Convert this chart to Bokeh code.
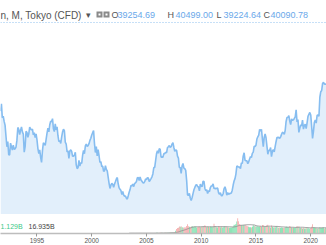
import pandas as pd
import numpy as np
from bokeh.plotting import figure
from bokeh.models import Range1d, Span, Label, FixedTicker
from bokeh.layouts import column
from bokeh.embed import file_html
from bokeh.resources import INLINE

# ---------------- data ----------------
price_start = "1991-09"
closes_1991 = [23916, 25222, 22687, 22984]
closes_1992 = [22023, 21339, 19346, 17391, 18348, 15952, 15910, 18061, 17399, 16767, 17684, 16925]
closes_1993 = [17024, 17308, 18591, 20919, 20552, 19590, 20380, 21027, 20106, 19704, 16408, 17417]
closes_1994 = [20229, 19997, 19111, 19725, 20974, 20644, 20449, 20629, 19564, 19990, 19076, 19723]
closes_1995 = [18650, 17054, 16140, 16807, 15437, 14517, 16678, 18117, 17913, 17655, 18744, 19868]
closes_1996 = [20813, 20125, 21407, 22041, 21956, 22531, 20693, 20167, 21556, 20466, 21020, 19361]
closes_1997 = [18330, 18557, 18003, 19151, 20069, 20605, 20331, 18229, 17888, 16459, 16637, 15259]
closes_1998 = [16628, 16831, 16527, 15641, 15671, 15830, 16379, 14108, 13406, 13565, 14883, 13842]
closes_1999 = [14499, 14367, 15837, 16701, 16112, 17530, 17862, 17437, 17605, 17943, 18558, 18934]
closes_2000 = [19540, 19960, 20337, 17974, 16332, 17411, 15728, 16861, 15747, 14540, 14649, 13786]
closes_2001 = [13844, 12884, 12999, 13934, 13262, 12969, 11861, 10713, 9775, 10366, 10697, 10543]
closes_2002 = [9998, 10588, 11025, 11493, 11764, 10622, 9877, 9619, 9383, 8640, 9216, 8579]
closes_2003 = [8340, 8363, 7973, 7831, 8425, 9083, 9563, 10344, 10219, 10560, 10101, 10677]
closes_2004 = [10784, 11042, 11715, 11762, 11236, 11859, 11326, 11082, 10824, 10771, 11013, 11489]
closes_2005 = [11388, 11741, 11669, 11009, 11277, 11584, 11900, 12414, 13574, 13607, 14872, 16111]
closes_2006 = [16650, 16205, 17060, 16906, 15467, 15505, 15457, 16141, 16128, 16399, 16274, 17226]
closes_2007 = [17383, 17604, 17288, 17400, 17876, 18138, 17249, 16569, 16786, 16737, 15681, 15308]
closes_2008 = [13592, 13603, 12526, 13850, 14339, 13481, 13377, 13073, 11260, 8577, 8512, 8860]
closes_2009 = [7994, 7568, 8110, 8828, 9523, 9958, 10357, 10493, 10133, 10035, 9346, 10546]
closes_2010 = [10198, 10126, 11090, 11057, 9769, 9383, 9537, 8824, 9369, 9202, 9937, 10229]
closes_2011 = [10238, 10624, 9755, 9850, 9694, 9816, 9833, 8955, 8700, 8988, 8435, 8455]
closes_2012 = [8803, 9723, 10084, 9521, 8543, 9007, 8695, 8840, 8870, 8928, 9446, 10395]
closes_2013 = [11139, 11559, 12398, 13861, 13775, 13677, 13668, 13389, 14456, 14328, 15662, 16291]
closes_2014 = [14915, 14841, 14828, 14304, 14632, 15162, 15621, 15425, 16174, 16414, 17460, 17451]
closes_2015 = [17674, 18798, 19207, 19520, 20563, 20236, 20585, 18890, 17388, 19083, 19747, 19034]
closes_2016 = [17518, 16027, 16759, 16666, 17235, 15576, 16569, 16887, 16450, 17425, 18308, 19114]
closes_2017 = [19041, 19119, 18909, 19197, 19651, 20033, 19925, 19646, 20356, 22012, 22725, 22765]
closes_2018 = [23098, 22068, 21454, 22468, 22202, 22305, 22554, 22865, 24120, 21920, 22351, 20015]
closes_2019 = [20773, 21385, 21206, 22259, 20601, 21276, 21522, 20704, 21756, 22927, 23294, 23657]
closes_2020 = [23205, 21143, 18917, 20194, 21878, 22288, 21710, 23140, 23185, 22977, 26434, 27444]
closes_2021 = [27663, 28966, 29179, 28813, 28860, 28792]

volume_start = "2003-06"
vol_2003 = [0.04, 0.05, 0.05, 0.06, 0.05, 0.05, 0.04]
vol_2004 = [0.05, 0.06, 0.06, 0.05, 0.05, 0.06, 0.05, 0.05, 0.04, 0.05, 0.05, 0.06]
vol_2005 = [0.05, 0.05, 0.06, 0.06, 0.05, 0.06, 0.05, 0.07, 0.08, 0.08, 0.09, 0.10]
vol_2006 = [0.10, 0.09, 0.09, 0.10, 0.12, 0.11, 0.09, 0.09, 0.10, 0.10, 0.11, 0.11]
vol_2007 = [0.12, 0.13, 0.15, 0.14, 0.13, 0.15, 0.16, 0.25, 0.45, 0.70, 0.85, 0.90]
vol_2008 = [1.10, 1.05, 1.15, 1.00, 0.95, 0.90, 1.00, 0.95, 1.20, 1.45, 1.15, 1.05]
vol_2009 = [1.00, 1.10, 1.20, 1.05, 1.00, 1.10, 1.05, 0.95, 1.00, 1.05, 1.10, 1.00]
vol_2010 = [1.05, 1.00, 1.10, 1.05, 1.30, 1.15, 1.00, 1.10, 1.05, 1.00, 1.10, 1.05]
vol_2011 = [1.00, 1.05, 1.55, 1.20, 1.05, 1.00, 0.95, 1.20, 1.10, 1.00, 1.05, 0.95]
vol_2012 = [0.95, 1.10, 1.15, 1.00, 1.10, 1.00, 0.95, 0.90, 0.95, 0.95, 1.00, 1.15]
vol_2013 = [1.40, 1.35, 1.50, 1.90, 2.40, 1.95, 1.50, 1.40, 1.35, 1.30, 1.35, 1.30]
vol_2014 = [1.35, 1.25, 1.20, 1.15, 1.05, 1.00, 1.00, 0.95, 1.05, 1.30, 1.20, 1.15]
vol_2015 = [1.10, 1.10, 1.15, 1.05, 1.10, 1.15, 1.05, 1.35, 1.30, 1.10, 1.05, 1.05]
vol_2016 = [1.35, 1.40, 1.10, 1.05, 0.95, 1.25, 1.05, 0.95, 1.00, 0.95, 1.20, 1.05]
vol_2017 = [0.95, 0.90, 0.95, 0.90, 0.95, 0.90, 0.85, 0.90, 0.95, 1.10, 1.05, 0.95]
vol_2018 = [1.00, 1.20, 1.05, 0.95, 0.90, 0.95, 0.90, 0.85, 1.00, 1.20, 1.00, 1.10]
vol_2019 = [0.95, 0.85, 0.90, 0.80, 0.90, 0.80, 0.80, 0.85, 0.80, 0.85, 0.80, 0.75]
vol_2020 = [0.85, 1.05, 1.45, 1.00, 0.95, 0.90, 0.85, 0.80, 0.80, 0.85, 1.00, 0.85]
vol_2021 = [0.90, 0.95, 1.00, 0.80, 0.85, 0.80]

tick_years = [1995, 2000, 2005, 2010, 2015, 2020]
tick_labels = ["1995", "2000", "2005", "2010", "2015", "2020"]

symbol_text = "n, M, Tokyo (CFD)"
ohlc_names = ["O", "H", "L", "C"]
ohlc_values = ["39254.69", "40499.00", "39224.64", "40090.78"]
last_close = 40090.78
vol_value_text = "1.129B"
vol_ma_text = "16.935B"

# ---------------- assemble ----------------
closes = (closes_1991 + closes_1992 + closes_1993 + closes_1994 + closes_1995 + closes_1996
          + closes_1997 + closes_1998 + closes_1999 + closes_2000 + closes_2001 + closes_2002
          + closes_2003 + closes_2004 + closes_2005 + closes_2006 + closes_2007 + closes_2008
          + closes_2009 + closes_2010 + closes_2011 + closes_2012 + closes_2013 + closes_2014
          + closes_2015 + closes_2016 + closes_2017 + closes_2018 + closes_2019 + closes_2020
          + closes_2021)
volumes = (vol_2003 + vol_2004 + vol_2005 + vol_2006 + vol_2007 + vol_2008 + vol_2009
           + vol_2010 + vol_2011 + vol_2012 + vol_2013 + vol_2014 + vol_2015 + vol_2016
           + vol_2017 + vol_2018 + vol_2019 + vol_2020 + vol_2021)


def dec_year(idx):
    return np.asarray(idx.year + (idx.month - 1) / 12.0, dtype=float)


p_dates = pd.date_range(price_start, periods=len(closes), freq="MS")
p_t = dec_year(p_dates)
price = pd.Series(closes, index=p_dates, dtype=float)

v_dates = pd.date_range(volume_start, periods=len(volumes), freq="MS")
v_t = dec_year(v_dates)
vol = pd.Series(volumes, index=v_dates, dtype=float)
chg = price.diff().reindex(v_dates)
vol_colors = ["#f4a3a3" if c < 0 else "#6edca3" for c in chg]
vol_ma = vol.rolling(20, min_periods=1).mean()

W = 326
H_MAIN = 214
H_VOL = 31
X0, X1 = 1991.667, 2021.44
Y_BOT, Y_TOP = 5012.0, 44110.0

x_range = Range1d(X0, X1)
price_range = Range1d(Y_BOT, Y_TOP)


def sx(px):
    return X0 + px * (X1 - X0) / W


def sy(py):
    return Y_TOP - py * (Y_TOP - Y_BOT) / H_MAIN


FONT = "Liberation Sans"

p = figure(width=W, height=H_MAIN, x_range=x_range, y_range=price_range,
           output_backend="svg", toolbar_location=None, min_border=0,
           x_axis_location=None, y_axis_location=None)
p.grid.visible = False
p.outline_line_color = None
p.background_fill_color = "white"
p.border_fill_color = "white"

p.varea(x=p_t, y1=Y_BOT, y2=price.values, fill_color="#e2effb", fill_alpha=1.0)
p.line(x=p_t, y=price.values, line_color="#86bdf0", line_width=1.6)
p.add_layout(Span(location=last_close, dimension="width", line_color="#8fc0ee",
                  line_dash="1 2", line_width=1))

# legend row
TY = 14.5
p.add_layout(Label(x=sx(0), y=sy(TY), text=symbol_text, text_font=FONT,
                   text_font_size="10px", text_color="#555555",
                   text_baseline="middle", text_align="left"))
p.add_layout(Label(x=sx(85), y=sy(TY), text="\u25be", text_font=FONT,
                   text_font_size="9px", text_color="#555555",
                   text_baseline="middle", text_align="left"))
# two small icon boxes
p.quad(left=[sx(96), sx(103)], right=[sx(102), sx(109)],
       bottom=[sy(17), sy(17)], top=[sy(11), sy(11)],
       fill_color="#8a8a8a", line_color=None)
p.quad(left=[sx(98), sx(105)], right=[sx(100), sx(107)],
       bottom=[sy(15), sy(15)], top=[sy(13), sy(13)],
       fill_color="#ffffff", line_color=None)

name_px = [111, 167, 216, 263]
val_px = [117, 175, 223, 270]
for name, val, npx, vpx in zip(ohlc_names, ohlc_values, name_px, val_px):
    p.add_layout(Label(x=sx(npx), y=sy(TY), text=name, text_font=FONT,
                       text_font_size="9px", text_color="#555555",
                       text_baseline="middle", text_align="left"))
    p.add_layout(Label(x=sx(vpx), y=sy(TY), text=val, text_font=FONT,
                       text_font_size="9px", text_color="#6aa8ea",
                       text_baseline="middle", text_align="left"))

# volume pane
VOL_MAX = 3.0
v = figure(width=W, height=H_VOL, x_range=x_range, y_range=Range1d(0, VOL_MAX),
           output_backend="svg", toolbar_location=None, min_border=0,
           y_axis_location=None)
v.grid.visible = False
v.outline_line_color = None
v.background_fill_color = "white"
v.border_fill_color = "white"
v.vbar(x=v_t, top=vol.values, width=1 / 12 * 0.85, fill_color=vol_colors,
       line_color=None)
v.line(x=v_t, y=vol_ma.values, line_color="#9a9a9a", line_width=1)

v.add_layout(Label(x=sx(0), y=VOL_MAX * 0.35, text=vol_value_text, text_font=FONT,
                   text_font_size="7px", text_color="#3cc987",
                   text_baseline="middle", text_align="left"))
v.add_layout(Label(x=sx(28), y=VOL_MAX * 0.35, text=vol_ma_text, text_font=FONT,
                   text_font_size="7px", text_color="#444444",
                   text_baseline="middle", text_align="left"))

ax = v.xaxis[0]
ax.ticker = FixedTicker(ticks=tick_years)
ax.major_label_overrides = {y: lab for y, lab in zip(tick_years, tick_labels)}
ax.axis_line_color = "#bdbdbd"
ax.axis_line_width = 1.5
ax.major_tick_out = 3
ax.major_tick_in = 0
ax.major_tick_line_color = "#999999"
ax.minor_tick_line_color = None
ax.major_label_text_font = FONT
ax.major_label_text_font_size = "6.5px"
ax.major_label_text_color = "#555555"
ax.major_label_standoff = 1

layout = column(p, v, spacing=0)
open("out.html", "w").write(file_html(layout, INLINE))
